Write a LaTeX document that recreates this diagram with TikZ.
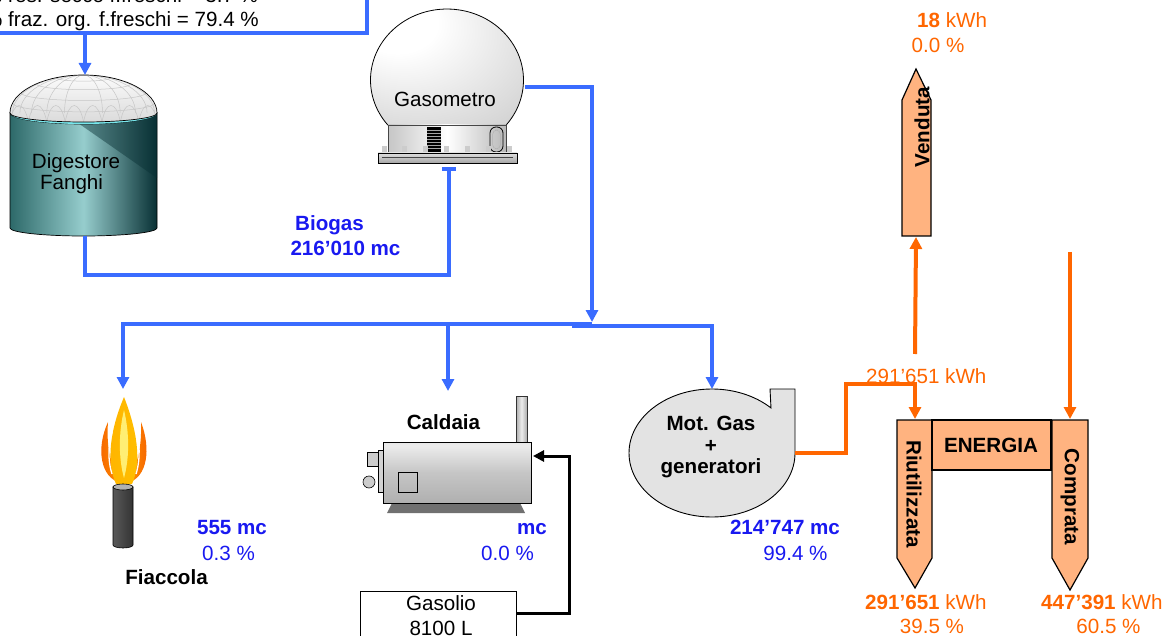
\documentclass[tikz,border=0pt]{standalone}
\usepackage{fontspec}
\setmainfont{Liberation Sans}
\usetikzlibrary{arrows.meta}

\definecolor{pipeblue}{RGB}{58,108,255}
\definecolor{valblue}{RGB}{25,25,240}
\definecolor{energyorange}{RGB}{255,102,0}
\definecolor{flowfill}{RGB}{255,179,128}
\definecolor{tealdark}{RGB}{45,105,105}
\definecolor{teallight}{RGB}{150,205,205}
\definecolor{tealdeep}{RGB}{8,48,52}
\definecolor{rimcyan}{RGB}{120,230,235}
\definecolor{boilerbase}{RGB}{112,112,112}
\definecolor{flameyellow}{RGB}{255,225,0}
\definecolor{flameorange}{RGB}{255,150,0}
\definecolor{flamered}{RGB}{245,95,0}

\pgfdeclareradialshading{gasball}{\pgfpoint{-18bp}{20bp}}{color(0bp)=(white);color(12bp)=(white);color(40bp)=(gray!35);color(58bp)=(gray!58)}
\pgfdeclareverticalshading{boilershade}{100bp}{color(0bp)=(gray!80);color(50bp)=(gray!45);color(72bp)=(gray!15);color(88bp)=(gray!35);color(100bp)=(gray!50)}

\tikzset{
  txt/.style={font=\fontsize{20.6}{24}\selectfont, inner sep=0pt, anchor=base},
  btxt/.style={txt, font=\fontsize{20.6}{24}\selectfont\bfseries},
  bluev/.style={btxt, text=valblue},
  bluep/.style={txt, text=valblue},
  orangep/.style={txt, text=energyorange},
  gaspipe/.style={draw=pipeblue, line width=4pt},
  gasflow/.style={gaspipe, -{Triangle[length=12pt,width=12pt]}},
  epipe/.style={draw=energyorange, line width=4pt},
  eflow/.style={epipe, -{Triangle[length=12pt,width=12pt]}},
  oilflow/.style={draw=black, line width=3pt, -{Triangle[length=11pt,width=11pt]}},
  flowarrow/.style={draw=black, line width=1.2pt, fill=flowfill, line join=miter},
}

\begin{document}
\begin{tikzpicture}[x=1pt,y=-1pt]
\useasboundingbox (0,0) rectangle (1169,636);
\clip (0,0) rectangle (1169,636);

% ---------- feed box ----------
\draw[draw=pipeblue, line width=3.5pt] (-30,-30) rectangle (367,33);
\node[txt, anchor=base west] (feed1) at (-16,3) {\% res. secco f.freschi = 3.7 \%};
\node[txt, anchor=base west] (feed2) at (-16,27) {\% fraz. org. f.freschi = 79.4 \%};

% ---------- digester ----------
\shade[left color=tealdark, right color=tealdeep, middle color=teallight, draw=black, line width=0.7pt]
  (10,113) -- (10,228) arc[start angle=180,end angle=0,x radius=73.5,y radius=8] -- (157,113)
  arc[start angle=0,end angle=180,x radius=73.5,y radius=11] -- cycle;
\fill[tealdeep, opacity=0.45] (78,123) -- (157,113) -- (157,178) -- cycle;
\fill[rimcyan] (10,113) arc[start angle=180,end angle=0,x radius=73.5,y radius=9]
  arc[start angle=0,end angle=180,x radius=73.5,y radius=11];
\begin{scope}
  \path[clip] (10,113) arc[start angle=180,end angle=360,x radius=73.5,y radius=38]
    arc[start angle=0,end angle=180,x radius=73.5,y radius=9];
  \shade[top color=white, bottom color=gray!30] (5,70) rectangle (162,125);
  \foreach \r in {71,63.6,52,36.7,19}
    \draw[gray!45, line width=0.5pt] (83.5-\r,113) arc[start angle=180,end angle=360,x radius=\r,y radius=38];
  \foreach \lat in {15,32,50,68}
    \draw[gray!45, line width=0.5pt] ({83.5-73.5*cos(\lat)},{113-38*sin(\lat)})
      arc[start angle=180,end angle=0,x radius={73.5*cos(\lat)},y radius={9*cos(\lat)}];
  \foreach \k in {0,...,8}
    \draw[gray!45, line width=0.5pt] (10+\k*18.4,122) .. controls (14+\k*18.4,100) and (24+\k*18.4,100) .. (28.4+\k*18.4,122);
\end{scope}
\draw[black, line width=0.7pt] (10,113) arc[start angle=180,end angle=360,x radius=73.5,y radius=38]
  arc[start angle=0,end angle=180,x radius=73.5,y radius=9];
\coordinate (digtop) at (85,75);
\coordinate (digbot) at (85,236);
\node[txt] (digname1) at (76,169) {Digestore};
\node[txt] (digname2) at (71.5,190) {Fanghi};

% ---------- gas holder ----------
\shade[shading=gasball, draw=black, line width=0.8pt]
  (387.8,125) arc[start angle=140.7,end angle=399.3,x radius=76.5,y radius=71] -- cycle;
\shade[left color=gray!45, right color=gray!55, middle color=white, draw=gray!55!black, line width=0.6pt]
  (388,125) rectangle (506,153);
\fill[black] (427,127) rectangle (441,152);
\foreach \yy in {130,133,...,150} \draw[gray!70, line width=0.4pt] (427,\yy) -- (441,\yy);
\draw[black, line width=0.8pt, rounded corners=6pt] (490,127) rectangle (503,152);
\draw[gray!60, line width=0.5pt, rounded corners=4.5pt] (492.5,130) rectangle (500.5,149);
\foreach \px in {384,404,425,446,467,488,509} \fill[gray!40] (\px-2.5,146) rectangle (\px+2.5,155);
\shade[top color=gray!25, bottom color=gray!70, draw=black, line width=0.6pt] (378,153) rectangle (517,163);
\draw[gray!55!black, line width=0.5pt] (382,157.5) -- (513,157.5);
\node[txt] (gasname) at (445,107) {Gasometro};
\coordinate (gasbot) at (449,167);
\coordinate (gasside) at (525,87);

\node[bluev] (biogas1) at (329.5,231) {Biogas};
\node[bluev] (biogas2) at (345.5,256) {216’010 mc};

% ---------- gas network ----------
\coordinate (feedout) at (85,33);
\draw[gasflow] (feedout) -- (digtop);
\draw[gaspipe, -{Bar[width=14pt]}] (digbot) |- (449,275) -- (gasbot);
\coordinate (split) at (592,322);
\draw[gasflow] (gasside) -| (split);
\coordinate (flaretop) at (123,389);
\coordinate (boilertop) at (448,391);
\coordinate (motortop) at (712,389);
\draw[gasflow] (592,324) -- (123,324) -- (flaretop);
\draw[gasflow] (448,324) -- (boilertop);
\draw[gasflow] (572,326) -- (712,326) -- (motortop);

% ---------- flare ----------
\shade[left color=flamered, right color=flameorange]
  (121,483) .. controls (100,478) and (96,448) .. (108,422) .. controls (106,448) and (111,470) .. (124,481) -- cycle;
\shade[left color=flameorange, right color=flamered]
  (127,483) .. controls (148,478) and (151,448) .. (141,422) .. controls (142,448) and (137,470) .. (125,481) -- cycle;
\shade[left color=flameorange!60!flameyellow, middle color=flameyellow, right color=flameorange!45!flameyellow]
  (116,484) .. controls (106,462) and (110,430) .. (124,397) .. controls (137,430) and (142,462) .. (132,484) -- cycle;
\fill[flameyellow!55!white] (124,410) .. controls (118,435) and (119,460) .. (124,478) .. controls (129,460) and (130,435) .. (124,410) -- cycle;
\draw[white, line width=1.3pt] (112,474) .. controls (107,458) and (109,442) .. (112,432);
\draw[white, line width=1.3pt] (136,474) .. controls (141,458) and (139,442) .. (137,432);
\shade[left color=black!65, middle color=white, right color=black!80, draw=black, line width=0.6pt]
  (113,487) -- (113,545) arc[start angle=180,end angle=0,x radius=10,y radius=3] -- (133,487) -- cycle;
\draw[black, fill=gray!60, line width=0.6pt] (123,487) ellipse[x radius=10, y radius=3];
\node[btxt] (flarename) at (166.5,584) {Fiaccola};
\node[bluev] (flarevol) at (232,534) {555 mc};
\node[bluep] (flarepct) at (228.5,560) {0.3 \%};

% ---------- boiler ----------
\shade[left color=gray!65, right color=gray!65, middle color=gray!15, draw=gray!40!black, line width=0.5pt]
  (516,396) rectangle (527,442);
\fill[boilerbase] (392,503) -- (520,503) -- (525,513) -- (387,513) -- cycle;
\shade[shading=boilershade, draw=black, line width=0.7pt] (383,442) rectangle (531,503);
\draw[black, line width=0.7pt] (398,472) rectangle (417,492);
\draw[black, fill=gray!35, line width=0.6pt] (378,450) rectangle (383,492);
\draw[black, fill=gray!40, line width=0.6pt] (367,452) rectangle (378,466);
\draw[black, fill=gray!40, line width=0.6pt] (369,482) circle[radius=6];
\node[btxt] (boilername) at (443.5,429) {Caldaia};
\node[bluev] (boilervol) at (532,534) {mc};
\node[bluep] (boilerpct) at (507.5,560) {0.0 \%};

% ---------- fuel oil tank ----------
\draw[black, fill=white, line width=0.8pt] (360,591) rectangle (516,660);
\node[txt] (oil1) at (441,610) {Gasolio};
\node[txt] (oil2) at (441,635) {8100 L};
\coordinate (tankout) at (516,613);
\coordinate (boilerin) at (533,456);
\draw[oilflow] (tankout) -| (569,456) -- (boilerin);

% ---------- gas engine ----------
\draw[black, fill=gray!22, line width=0.9pt]
  (770,389) -- (795,389) -- (795,453) arc[start angle=0,end angle=315.3,x radius=83,y radius=64] -- cycle;
\node[btxt] (mot1) at (711,430) {Mot. Gas};
\node[btxt] (mot2) at (711,452) {+};
\node[btxt] (mot3) at (711,473) {generatori};
\node[bluev] (motvol) at (785,534) {214’747 mc};
\node[bluep] (motpct) at (795.5,560) {99.4 \%};
\coordinate (motorout) at (795,453);

% ---------- energy balance ----------
\coordinate (reusetop) at (915,419);
\coordinate (soldbot) at (916,237);
\coordinate (boughttop) at (1070,419);
\draw[eflow] (motorout) -- (846,453) |- (915,384) -- (reusetop);
\draw[eflow] (915,354) -- (soldbot);
\draw[eflow] (1070,252) -- (boughttop);

\draw[flowarrow] (902,236) -- (902,100) -- (916,69) -- (931,100) -- (931,236) -- cycle;
\draw[flowarrow] (897,420) -- (932,420) -- (932,558) -- (915,588) -- (897,558) -- cycle;
\draw[flowarrow] (932,420) rectangle (1051,470);
\draw[flowarrow] (1052,420) -- (1088,420) -- (1088,558) -- (1070,590) -- (1052,558) -- cycle;

\node[btxt, anchor=center, rotate=90] (sold) at (922,127) {Venduta};
\node[btxt, anchor=center, rotate=-90] (reused) at (914,494) {Riutilizzata};
\node[btxt, anchor=center, rotate=-90] (bought) at (1070,497) {Comprata};
\node[btxt] (energy) at (991,452) {ENERGIA};

\node[orangep, anchor=base west] (soldkwh) at (917,28) {\textbf{18} kWh};
\node[orangep] (soldpct) at (938,53) {0.0 \%};
\node[orangep, anchor=base west] (reusemid) at (866,383) {291’651 kWh};
\node[orangep, anchor=base west] (reusekwh) at (865,609) {\textbf{291’651} kWh};
\node[orangep] (reusepct) at (932,633) {39.5 \%};
\node[orangep, anchor=base west] (boughtkwh) at (1041,609) {\textbf{447’391} kWh};
\node[orangep] (boughtpct) at (1108.5,633) {60.5 \%};
\end{tikzpicture}
\end{document}
